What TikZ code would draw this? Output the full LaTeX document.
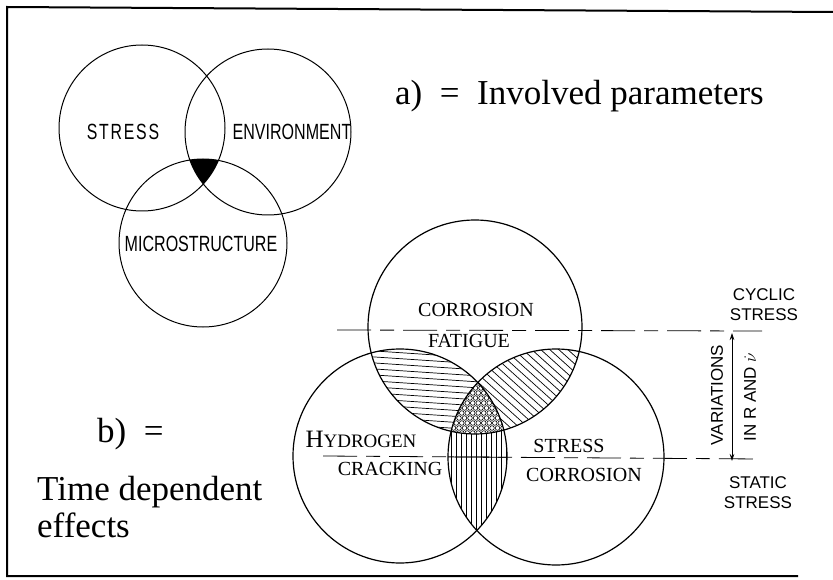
\documentclass[tikz,border=0pt]{standalone}
\usepackage{fontspec}
\setmainfont{Liberation Serif}
\newfontfamily\lsans{Liberation Sans}
\usetikzlibrary{arrows.meta}
\begin{document}
\begin{tikzpicture}[x=1pt,y=-1pt,
  thincirc/.style={draw, line width=1.0pt},
  circ/.style={draw, line width=1.2pt},
  hatch/.style={line width=0.7pt},
  toplab/.style={font=\lsans\fontsize{22}{22}\selectfont, inner sep=0pt},
  caplab/.style={font=\fontsize{20}{20}\selectfont, inner sep=0pt},
  sidelab/.style={font=\lsans\fontsize{17}{20}\selectfont, inner sep=0pt, align=center},
  bigtext/.style={font=\fontsize{35}{35}\selectfont, inner sep=0pt},
  dashline/.style={line width=0.8pt, dash pattern=on 34pt off 9pt on 14pt off 9pt}
]
\useasboundingbox (0,0) rectangle (833,580);

% frame
\coordinate (f1) at (833,12);
\coordinate (f2) at (7,7);
\coordinate (f3) at (7,576);
\coordinate (f4) at (798,576);
\draw[line width=2pt] (f1) -- (f2) -- (f3) -- (f4);

% ---------- top Venn ----------
\coordinate (S) at (142,128);
\coordinate (E) at (268,132);
\coordinate (M) at (203,243);
\begin{scope}
  \clip (S) circle[radius=83pt];
  \clip (E) circle[radius=83pt];
  \fill (M) circle[radius=84pt];
\end{scope}
\draw[thincirc] (S) circle[radius=83pt];
\draw[thincirc] (E) circle[radius=83pt];
\draw[thincirc] (M) circle[radius=84pt];
\node[toplab] (ls) at (123,132) {\scalebox{0.72}[1]{S\hspace{2.5pt}T\hspace{2.5pt}R\hspace{2.5pt}E\hspace{2.5pt}S\hspace{2.5pt}S}};
\node[toplab] (le) at (292,132) {\scalebox{0.73}[1]{ENVIRONMENT}};
\node[toplab] (lm) at (201,244) {\scalebox{0.73}[1]{MICROSTRUCTURE}};

\node[bigtext, anchor=base west] (ta) at (395,105) {a)\enspace=\enspace Involved parameters};
\node[bigtext, anchor=base west] (tb) at (97,442) {b)\enspace=};
\node[bigtext, anchor=base west] (tc) at (37,500) {Time dependent};
\node[bigtext, anchor=base west] (td) at (37,537) {effects};

% ---------- bottom Venn ----------
\coordinate (T) at (475,327);
\coordinate (L) at (400,456);
\coordinate (R) at (556,457);

% top & left lens: near-horizontal lines
\begin{scope}
  \clip (T) circle[radius=107pt];
  \clip (L) circle[radius=107pt];
  \foreach \y in {326,332,...,452} \draw[hatch] (360,\y) -- (510,{\y+10});
\end{scope}
% top & right lens: diagonal lines
\begin{scope}
  \clip (T) circle[radius=107pt];
  \clip (R) circle[radius=108pt];
  \foreach \x in {330,339,...,590} \draw[hatch] (\x,330) -- ({\x+130},447);
\end{scope}
% left & right lens: vertical lines
\begin{scope}
  \clip (L) circle[radius=107pt];
  \clip (R) circle[radius=108pt];
  \foreach \x in {446,451,...,512} \draw[hatch] (\x,375) -- (\x,540);
\end{scope}
% triple region: small circles
\begin{scope}
  \clip (T) circle[radius=107pt];
  \clip (L) circle[radius=107pt];
  \clip (R) circle[radius=108pt];
  \fill[white] (T) circle[radius=107pt];
  \foreach \i in {0,...,12}
    \foreach \j in {0,...,12}
      \draw[line width=0.6pt] ({448+\i*5.5+mod(\j,2)*2.75},{378+\j*5}) circle[radius=2.3pt];
\end{scope}

\draw[circ] (T) circle[radius=107pt];
\draw[circ] (L) circle[radius=107pt];
\draw[circ] (R) circle[radius=108pt];

% dashed levels
\coordinate (u1) at (337,330);
\coordinate (u2) at (762,331);
\coordinate (d1) at (323,456);
\coordinate (d2) at (760,459);
\draw[dashline] (u1) -- (u2);
\draw[dashline] (d1) -- (d2);
\begin{scope}
  \clip (L) circle[radius=107pt];
  \clip (R) circle[radius=108pt];
  \draw[line width=0.8pt] (d1) -- (d2);
\end{scope}

% arrow
\coordinate (a1) at (732,333);
\coordinate (a2) at (732,461);
\draw[line width=0.7pt, {Stealth[length=7pt,width=4.5pt]}-{Stealth[length=7pt,width=4.5pt]}] (a1) -- (a2);

% labels
\node[caplab] (l1) at (476,310) {CORROSION};
\node[caplab] (l2) at (469,341) {FATIGUE};
\node[caplab, anchor=base] (l3) at (361,447) {{\fontsize{25}{25}\selectfont H}{\fontsize{19}{19}\selectfont YDROGEN}};
\node[caplab] (l4) at (390,468.5) {CRACKING};
\node[caplab] (l5) at (569,445.5) {STRESS};
\node[caplab] (l6) at (584,475) {CORROSION};

\node[sidelab] (c1) at (764,305) {CYCLIC\\STRESS};
\node[sidelab] (c2) at (758,493) {STATIC\\STRESS};
\node[sidelab, rotate=90] (v1) at (717,395) {VARIATIONS};
\node[sidelab, rotate=90] (v2) at (750,397) {IN R AND $\dot{\nu}$};
\end{tikzpicture}
\end{document}
